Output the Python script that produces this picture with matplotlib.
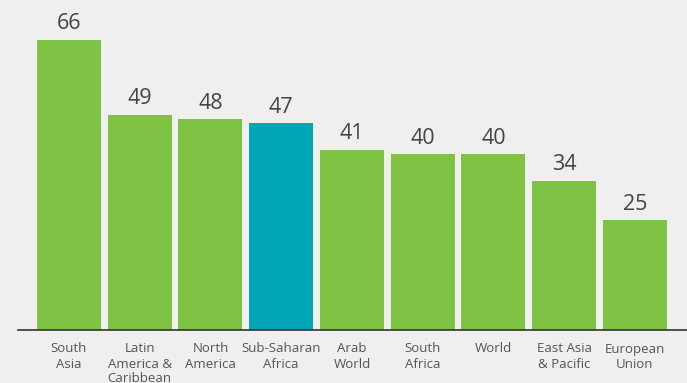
import matplotlib
matplotlib.use("Agg")
import matplotlib.pyplot as plt

categories = ["South\nAsia", "Latin\nAmerica &\nCaribbean", "North\nAmerica", "Sub-Saharan\nAfrica",
              "Arab\nWorld", "South\nAfrica", "World", "East Asia\n& Pacific", "European\nUnion"]
values = [66, 49, 48, 47, 41, 40, 40, 34, 25]
highlight = "Sub-Saharan\nAfrica"

GREEN = "#7dc242"
TEAL = "#00a6b7"
BG = "#efefef"

fig = plt.figure(figsize=(6.87, 3.83), dpi=100, facecolor=BG)
ax = fig.add_axes([18/687, 53/383, 669/687, 330/383])
ax.set_facecolor(BG)

x = list(range(len(categories)))
colors = [TEAL if c == highlight else GREEN for c in categories]
bars = ax.bar(x, values, width=0.905, color=colors)

for xi, v in zip(x, values):
    ax.annotate(str(v), (xi, v), xytext=(0, 4), textcoords="offset points",
                ha="center", va="bottom", fontsize=15.5, color="#444444", family="Open Sans")

ax.set_xlim(-0.72, 8.735)
ax.set_ylim(0, 75.1)
ax.set_xticks(x)
ax.set_xticklabels(categories, fontsize=9.5, color="#555555", family="Open Sans", linespacing=1.2)
ax.tick_params(axis="x", length=0, pad=9)
ax.set_yticks([])
for s in ["top", "right", "left"]:
    ax.spines[s].set_visible(False)
ax.spines["bottom"].set_color("#333333")
ax.spines["bottom"].set_linewidth(1.2)

fig.savefig("out.png", dpi=100, facecolor=BG)
